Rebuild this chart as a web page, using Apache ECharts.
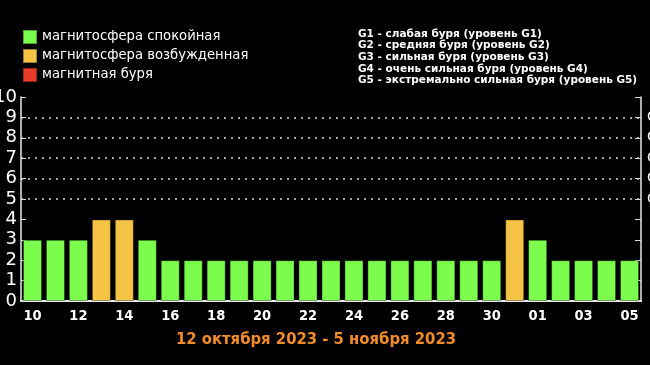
<!DOCTYPE html>
<html><head><meta charset="utf-8">
<script src="https://cdn.jsdelivr.net/npm/echarts@6/dist/echarts.min.js"></script>
<style>html,body{margin:0;padding:0;background:#000;}#c{width:650px;height:365px;}</style>
</head><body><div id="c"></div>
<script>
const categories = ['10','11','12','13','14','15','16','17','18','19','20','21','22','23','24','25','26','27','28','29','30','31','01','02','03','04','05'];
const kpValues = [3,3,3,4,4,3,2,2,2,2,2,2,2,2,2,2,2,2,2,2,2,4,3,2,2,2,2];
const legendNames = ['магнитосфера спокойная','магнитосфера возбужденная','магнитная буря'];
const legendColors = ['#7cfc4c','#f6c444','#e83a28'];
const gLevels = [5,6,7,8,9];
const gLabels = ['G1','G2','G3','G4','G5'];
const gTexts = [
 'G1 - слабая буря (уровень G1)',
 'G2 - средняя буря (уровень G2)',
 'G3 - сильная буря (уровень G3)',
 'G4 - очень сильная буря (уровень G4)',
 'G5 - экстремально сильная буря (уровень G5)'
];
const subtitle = '12 октября 2023 - 5 ноября 2023';

function cls(v){ return v <= 3 ? 0 : (v === 4 ? 1 : 2); }
const series = legendNames.map((name, k) => ({
  name: name,
  type: 'bar',
  barGap: '-100%',
  barCategoryGap: '17%',
  itemStyle: { color: legendColors[k], borderColor: 'rgba(0,0,0,0.35)', borderWidth: 1 },
  data: kpValues.map(v => cls(v) === k ? v : '-'),
  z: 3
}));
series[0].markLine = {
  silent: true, symbol: 'none', label: { show: false },
  lineStyle: { color: '#d8d8d8', type: [2, 5], width: 1.5 },
  data: gLevels.map(v => ({ yAxis: v }))
};

const chart = echarts.init(document.getElementById('c'));
chart.setOption({
  backgroundColor: '#000',
  animation: false,
  title: [
    { text: gTexts.join('\n'), left: 358, top: 28, padding: 0,
      textStyle: { color: '#fff', fontSize: 10.5, fontWeight: 'bold', fontFamily: 'DejaVu Sans', lineHeight: 11.7 } },
    { text: subtitle, left: 316, textAlign: 'center', top: 331, padding: 0,
      textStyle: { color: '#f28c28', fontSize: 16.5, fontWeight: 'bold', fontFamily: 'DejaVu Sans Condensed' } }
  ],
  legend: {
    orient: 'vertical', left: 22, top: 29, padding: 0, itemWidth: 14, itemHeight: 14, itemGap: 3,
    icon: 'rect', data: legendNames,
    textStyle: { color: '#fff', fontSize: 13.2, fontFamily: 'DejaVu Sans', lineHeight: 14, padding: [0,0,0,0] }
  },
  grid: { left: 21, right: 9, top: 97, bottom: 64, outerBoundsMode: 'none', containLabel: false },
  xAxis: [
    { type: 'category', data: categories, position: 'bottom',
      axisLine: { lineStyle: { color: '#e8e8e8', width: 2 } },
      axisTick: { inside: true, length: 4, lineStyle: { color: '#aaa' } },
      axisLabel: { interval: 1, color: '#fff', fontSize: 14.5, fontWeight: 'bold', fontFamily: 'DejaVu Sans Condensed', margin: 8 } },
    { type: 'category', data: categories, position: 'top',
      axisLine: { lineStyle: { color: '#e8e8e8', width: 1.5 } },
      axisTick: { inside: true, length: 5, lineStyle: { color: '#ddd' } },
      axisLabel: { show: false } }
  ],
  yAxis: [
    { type: 'value', min: 0, max: 10, interval: 1, position: 'left',
      axisLine: { show: true, lineStyle: { color: '#e8e8e8', width: 1.5 } },
      axisTick: { show: true, inside: true, length: 5, lineStyle: { color: '#ddd' } },
      splitLine: { show: false },
      axisLabel: { color: '#fff', fontSize: 18, fontFamily: 'DejaVu Sans', margin: 4 } },
    { type: 'value', min: 0, max: 10, interval: 1, position: 'right',
      axisLine: { show: true, lineStyle: { color: '#e8e8e8', width: 1.5 } },
      axisTick: { show: true, inside: true, length: 6, lineStyle: { color: '#ddd' } },
      splitLine: { show: false },
      axisLabel: { color: '#fff', fontSize: 14, fontFamily: 'DejaVu Sans', margin: 6,
        formatter: v => { const i = gLevels.indexOf(v); return i >= 0 ? gLabels[i] : ''; } } }
  ],
  series: series
});
</script></body></html>
